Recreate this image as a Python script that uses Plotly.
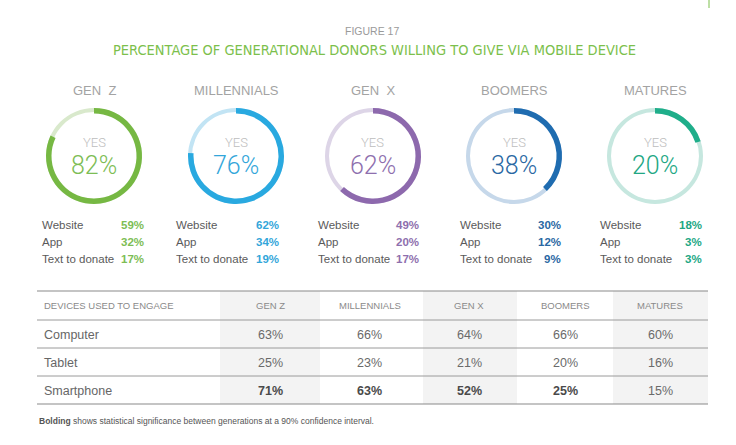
import plotly.graph_objects as go

W, H = 736, 445

# ---------------- data ----------------
generations = ["GEN  Z", "MILLENNIALS", "GEN  X", "BOOMERS", "MATURES"]
table_headers = ["GEN Z", "MILLENNIALS", "GEN X", "BOOMERS", "MATURES"]
yes_pct = [82, 76, 62, 38, 20]
channel_labels = ["Website", "App", "Text to donate"]
website = [59, 62, 49, 30, 18]
app = [32, 34, 20, 12, 3]
text_donate = [17, 19, 17, 9, 3]
devices = ["Computer", "Tablet", "Smartphone"]
computer = [63, 66, 64, 66, 60]
tablet = [25, 23, 21, 20, 16]
smartphone = [71, 63, 52, 25, 15]
smartphone_bold = [True, True, True, True, False]

# ---------------- styles ----------------
dark_cols = ["#76b843", "#29a9e0", "#8d69ad", "#1f6cb0", "#1fae8a"]
light_cols = ["#d9e9cc", "#c2e4f4", "#ddd5e7", "#c6d8ea", "#c6e7df"]
num_cols = ["#7dbd55", "#33a6da", "#8e6fae", "#2a68a3", "#22a784"]
centers_x = [94, 236, 373, 514, 655]
center_y = 156
R = 48
label_left = [40, 174, 316, 458, 598]
value_right = [146, 281, 421, 563, 704]
col_centers = [270, 370, 469, 565, 660]
shade_cols = [(220, 320), (423, 517), (613, 708)]

def px(x):
    return x / W

def py(y):
    return 1 - y / H

fig = go.Figure()
annotations = []
shapes = []

def txt(x, y, s, size, color, anchor="center", family="Liberation Sans", weight=None):
    f = dict(size=size, color=color, family=family)
    if weight is not None:
        f["weight"] = weight
    annotations.append(dict(x=px(x), y=py(y), xref="paper", yref="paper", text=s,
                             showarrow=False, xanchor=anchor, yanchor="middle",
                             font=f))

# titles
txt(372, 31, "FIGURE 17", 10.5, "#9a9a9a")
txt(374, 50, "PERCENTAGE OF GENERATIONAL DONORS WILLING TO GIVE VIA MOBILE DEVICE", 14.5,
    "#7cbf4c", family="DejaVu Sans Condensed, Liberation Sans, sans-serif")

for i, g in enumerate(generations):
    cx = centers_x[i]
    dom = dict(x=[px(cx - R), px(cx + R)], y=[py(center_y + R), py(center_y - R)])
    fig.add_trace(go.Pie(values=[1], labels=["bg"], domain=dom, hole=(R - 4) / R,
                         marker=dict(colors=[light_cols[i]], line=dict(width=0)),
                         textinfo="none", hoverinfo="skip", showlegend=False, sort=False))
    fig.add_trace(go.Pie(values=[yes_pct[i], 100 - yes_pct[i]], labels=["yes", "no"], domain=dom,
                         hole=(R - 5.5) / R, direction="clockwise", rotation=0, sort=False,
                         marker=dict(colors=[dark_cols[i], "rgba(0,0,0,0)"], line=dict(width=0)),
                         textinfo="none", hoverinfo="skip", showlegend=False))
    txt(cx, 90, g, 13, "#a3a3a3", weight=500)
    txt(cx, 142, "YES", 13, "#bdbdbd", family="Roboto", weight=300)
    txt(cx, 165, f"{yes_pct[i]}%", 25, num_cols[i], family="Roboto", weight=300)
    vals = [website[i], app[i], text_donate[i]]
    for j, lab in enumerate(channel_labels):
        yy = 225 + j * 17
        txt(label_left[i], yy, lab, 11.5, "#5a5a5a", anchor="left")
        txt(value_right[i], yy, f"{vals[j]}%", 11.5, num_cols[i], anchor="right", weight=600)

# table
t_top, t_bot = 291, 404
row_lines = [320, 348, 376]
for (x0, x1) in shade_cols:
    shapes.append(dict(type="rect", xref="paper", yref="paper", x0=px(x0), x1=px(x1),
                       y0=py(t_bot), y1=py(t_top), fillcolor="#f3f3f3", line=dict(width=0),
                       layer="below"))
shapes.append(dict(type="line", xref="paper", yref="paper", x0=px(37), x1=px(708),
                   y0=py(t_top), y1=py(t_top), line=dict(color="#8a8a8a", width=1.2)))
for yl in row_lines:
    shapes.append(dict(type="line", xref="paper", yref="paper", x0=px(37), x1=px(708),
                       y0=py(yl), y1=py(yl), line=dict(color="#9a9a9a", width=1)))
shapes.append(dict(type="line", xref="paper", yref="paper", x0=px(37), x1=px(708),
                   y0=py(t_bot), y1=py(t_bot), line=dict(color="#8a8a8a", width=1.2)))
shapes.append(dict(type="line", xref="paper", yref="paper", x0=px(709), x1=px(709),
                   y0=py(0), y1=py(8), line=dict(color="#7cbf4c", width=1)))

txt(42, 305, "DEVICES USED TO ENGAGE", 9.5, "#8a8a8a", anchor="left")
for k, h in enumerate(table_headers):
    txt(col_centers[k], 305, h, 9.5, "#8a8a8a")

rows = [computer, tablet, smartphone]
for r, dev in enumerate(devices):
    yy = 335 + r * 28
    txt(42, yy, dev, 12.5, "#666666", anchor="left")
    for k in range(5):
        v = rows[r][k]
        if r == 2 and smartphone_bold[k]:
            txt(col_centers[k], yy, f"<b>{v}%</b>", 12.5, "#4a4a4a")
        else:
            txt(col_centers[k], yy, f"{v}%", 12.5, "#6a6a6a")

txt(37, 421, "<b>Bolding</b> shows statistical significance between generations at a 90% confidence interval.",
    8.5, "#555555", anchor="left")

fig.update_layout(width=W, height=H, margin=dict(l=0, r=0, t=0, b=0),
                  paper_bgcolor="white", plot_bgcolor="white",
                  annotations=annotations, shapes=shapes, showlegend=False)
fig.write_html("out.html", config={"displayModeBar": False},
               post_script="document.body.style.margin='0';document.body.style.overflow='hidden';")
